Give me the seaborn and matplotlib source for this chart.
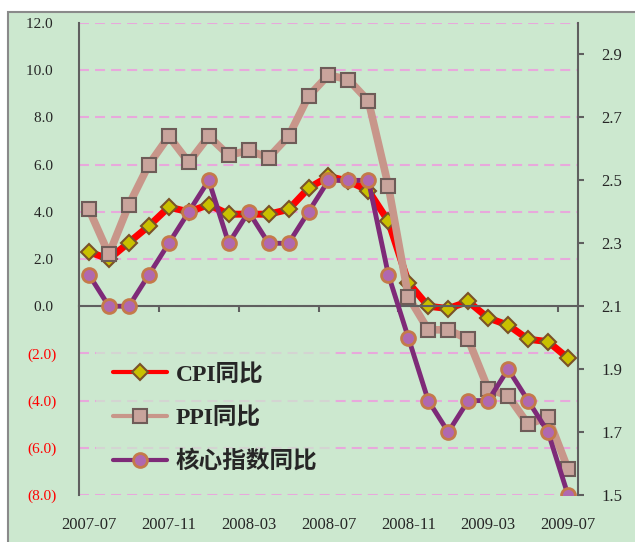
import numpy as np
import pandas as pd
import matplotlib
matplotlib.use('Agg')
import matplotlib.pyplot as plt
import seaborn as sns
from matplotlib.patches import Rectangle
from matplotlib.lines import Line2D

months = ['2007-07', '2007-08', '2007-09', '2007-10', '2007-11', '2007-12',
          '2008-01', '2008-02', '2008-03', '2008-04', '2008-05', '2008-06',
          '2008-07', '2008-08', '2008-09', '2008-10', '2008-11', '2008-12',
          '2009-01', '2009-02', '2009-03', '2009-04', '2009-05', '2009-06',
          '2009-07']
cpi = [2.3, 2.0, 2.7, 3.4, 4.2, 4.0, 4.3, 3.9, 3.9, 3.9, 4.1, 5.0, 5.5,
       5.3, 4.9, 3.6, 1.0, 0.0, -0.1, 0.2, -0.5, -0.8, -1.4, -1.5, -2.2]
ppi = [4.1, 2.2, 4.3, 6.0, 7.2, 6.1, 7.2, 6.4, 6.6, 6.3, 7.2, 8.9, 9.8,
       9.6, 8.7, 5.1, 0.4, -1.0, -1.0, -1.4, -3.5, -3.8, -5.0, -4.7, -6.9]
core = [2.2, 2.1, 2.1, 2.2, 2.3, 2.4, 2.5, 2.3, 2.4, 2.3, 2.3, 2.4, 2.5,
        2.5, 2.5, 2.2, 2.0, 1.8, 1.7, 1.8, 1.8, 1.9, 1.8, 1.7, 1.5]
tick_months = ['2007-07', '2007-11', '2008-03', '2008-07', '2008-11',
               '2009-03', '2009-07']
left_ticks = [-8, -6, -4, -2, 0, 2, 4, 6, 8, 10, 12]
right_ticks = [1.5, 1.7, 1.9, 2.1, 2.3, 2.5, 2.7, 2.9]

df = pd.DataFrame({'月份': months, 'CPI同比': cpi, 'PPI同比': ppi, '核心指数同比': core})
df['序号'] = np.arange(len(df))

sns.set_style('white')
plt.rcParams['font.family'] = ['Liberation Serif', 'Noto Sans CJK SC']
plt.rcParams['axes.unicode_minus'] = False

bg = '#CCE8CF'
axis_c = '#5F5F5F'
styles = {
    'CPI同比': dict(color='#FF0000', marker='D', markersize=8, markerfacecolor='#C8C000',
                  markeredgecolor='#7A5228', markeredgewidth=1.5),
    'PPI同比': dict(color='#C8968A', marker='s', markersize=10, markerfacecolor='#C9A49C',
                  markeredgecolor='#6E5C58', markeredgewidth=1.5),
    '核心指数同比': dict(color='#7E2A78', marker='o', markersize=10, markerfacecolor='#B068B0',
                   markeredgecolor='#C47A4A', markeredgewidth=2),
}

fig = plt.figure(figsize=(6.35, 5.42), dpi=100)
fig.patch.set_facecolor('white')
fig.add_artist(Rectangle((8 / 635, -0.01), 1.0, 0.988, transform=fig.transFigure,
                         facecolor=bg, edgecolor='#8A8A8A', lw=1.5, zorder=-1))

ax = fig.add_axes([0.1244, 0.0867, 0.7858, 0.8708])
ax.set_facecolor('none')

sns.lineplot(data=df, x='序号', y='CPI同比', ax=ax, lw=5, **styles['CPI同比'])
sns.lineplot(data=df, x='序号', y='PPI同比', ax=ax, lw=5.5, **styles['PPI同比'])
ax2 = ax.twinx()
sns.lineplot(data=df, x='序号', y='核心指数同比', ax=ax2, lw=3.5, **styles['核心指数同比'])

for a in (ax, ax2):
    a.set_xlabel('')
    a.set_ylabel('')

# 左轴
ax.set_xlim(-0.5, len(months) - 0.5)
ax.set_ylim(-8, 12)
ax.set_yticks(left_ticks)
ax.set_yticklabels([f'({abs(v):.1f})' if v < 0 else f'{v:.1f} ' for v in left_ticks])
for lbl, v in zip(ax.get_yticklabels(), left_ticks):
    if v < 0:
        lbl.set_color('red')
ax.tick_params(axis='y', left=False, pad=12.5, labelsize=11)
ax.yaxis.grid(True, color='#E8A8DC', lw=1.5, ls=(0, (4.8, 2.9)))
ax.xaxis.grid(False)
ax.set_axisbelow(True)

ax.spines['bottom'].set_position(('data', 0))
for s in ('top', 'right'):
    ax.spines[s].set_visible(False)
for s in ('left', 'bottom'):
    ax.spines[s].set_color(axis_c)
    ax.spines[s].set_linewidth(1.5)
ax.set_xticks([])
ax.set_xticks([months.index(m) - 0.5 for m in tick_months[1:]], minor=True)
ax.tick_params(axis='x', which='minor', bottom=True, direction='out',
               length=4, width=1.5, color=axis_c)

sec = ax.secondary_xaxis('bottom')
sec.set_xticks([months.index(m) for m in tick_months], tick_months)
sec.tick_params(length=0, pad=15.5, labelsize=12)
sec.spines['bottom'].set_visible(False)

# 右轴
ax2.set_ylim(1.5, 3.0)
ax2.set_yticks(right_ticks)
ax2.set_yticklabels([f'{v:.1f}' for v in right_ticks])
ax2.tick_params(axis='y', right=True, direction='out', length=4, width=1.5,
                color=axis_c, pad=13, labelsize=12)
for s in ('left', 'top', 'bottom'):
    ax2.spines[s].set_visible(False)
ax2.spines['right'].set_color(axis_c)
ax2.spines['right'].set_linewidth(1.5)

handles = [Line2D([], [], lw=3, **styles[k]) for k in styles]
ax2.legend(handles, list(styles), loc='upper left',
           bbox_to_anchor=(0.035, 0.313), borderaxespad=0,
           prop={'family': ['Liberation Serif', 'Noto Sans CJK SC'],
                 'weight': 'bold', 'size': 17},
           handlelength=2.3, handletextpad=0.35, labelspacing=0.9,
           borderpad=0.7, frameon=True, fancybox=False, facecolor=bg,
           edgecolor='none', framealpha=0.7)

fig.savefig('out.png', dpi=100)
plt.close(fig)
